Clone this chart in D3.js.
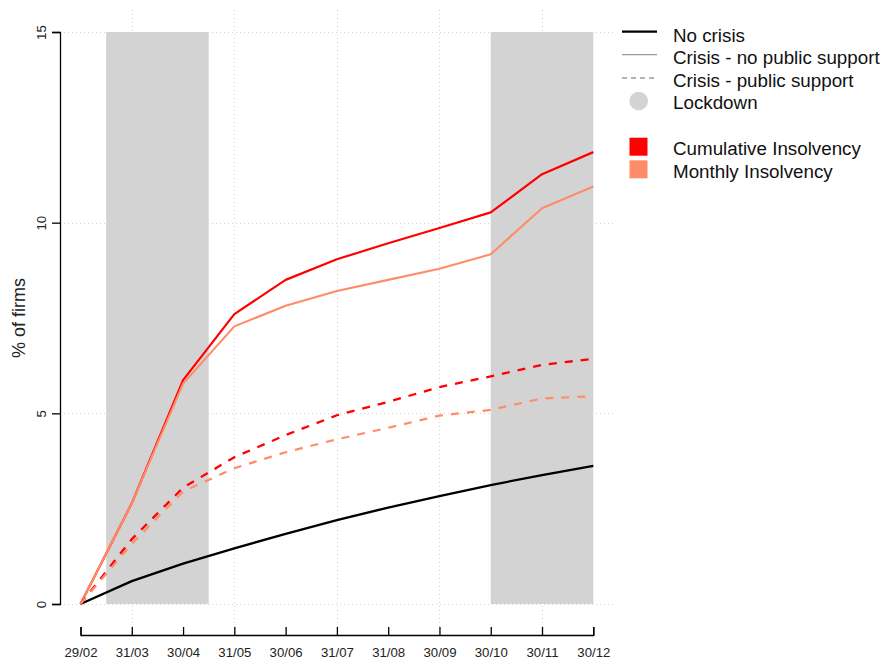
<!DOCTYPE html>
<html>
<head>
<meta charset="utf-8">
<script src="https://cdn.jsdelivr.net/npm/d3@7"></script>
<style>
  html, body { margin: 0; padding: 0; background: #fff; }
  svg { display: block; font-family: "Liberation Sans", Arial, sans-serif; }
</style>
</head>
<body>
<svg id="chart" width="885" height="664"></svg>
<script>
// Month-end dates shown on the x axis
const dates = ["29/02", "31/03", "30/04", "31/05", "30/06", "31/07", "31/08", "30/09", "30/10", "30/11", "30/12"];

// Share of firms insolvent (%) per scenario
const noCrisis          = [0, 0.60, 1.06, 1.46, 1.84, 2.20, 2.53, 2.83, 3.12, 3.38, 3.62];
const cumulNoSupport    = [0, 2.64, 5.87, 7.60, 8.50, 9.04, 9.46, 9.86, 10.27, 11.27, 11.85];
const monthlyNoSupport  = [0, 2.64, 5.78, 7.28, 7.82, 8.21, 8.50, 8.79, 9.17, 10.38, 10.95];
const cumulSupport      = [0, 1.70, 3.05, 3.85, 4.43, 4.95, 5.30, 5.69, 5.97, 6.27, 6.43];
const monthlySupport    = [0, 1.58, 2.95, 3.56, 3.98, 4.32, 4.62, 4.94, 5.09, 5.39, 5.45];

// Lockdown periods, in date-index units
const lockdowns = [[0.5, 2.5], [8, 10]];

const yTicks = [0, 5, 10, 15];
const gridX = [1, 3, 5, 7, 9];

const svg = d3.select("#chart");

const x = d3.scaleLinear().domain([0, 10]).range([80.5, 593.3]);
const y = d3.scaleLinear().domain([0, 15]).range([604, 32]);

const RED = "#FF0000", SALMON = "#FF8C69", LOCK = "#D3D3D3";

// Grid
const grid = svg.append("g").attr("stroke", "#d3d3d3").attr("stroke-dasharray", "1,3").attr("stroke-width", 1);
grid.selectAll("line.h").data(yTicks).join("line")
  .attr("x1", 60).attr("x2", 613)
  .attr("y1", d => Math.round(y(d)) + 0.5).attr("y2", d => Math.round(y(d)) + 0.5);
grid.selectAll("line.v").data(gridX).join("line")
  .attr("x1", d => Math.round(x(d)) + 0.5).attr("x2", d => Math.round(x(d)) + 0.5)
  .attr("y1", 10).attr("y2", 627);

// Lockdown shading
svg.append("g").selectAll("rect").data(lockdowns).join("rect")
  .attr("x", d => x(d[0])).attr("width", d => x(d[1]) - x(d[0]))
  .attr("y", y(15)).attr("height", y(0) - y(15))
  .attr("fill", LOCK);

// Y axis with rotated tick labels
const yAxis = d3.axisLeft(y).tickValues(yTicks).tickSize(8).tickFormat(d3.format("d"));
const gy = svg.append("g").attr("transform", "translate(60,0)").call(yAxis);
gy.select(".domain").attr("stroke", "#000").attr("stroke-width", 1.3);
gy.selectAll(".tick line").attr("stroke", "#000").attr("stroke-width", 1.3);
gy.selectAll(".tick text")
  .attr("font-size", 13.3).attr("fill", "#222")
  .attr("x", 0).attr("y", 0)
  .attr("text-anchor", "middle")
  .attr("transform", "translate(-19,0) rotate(-90)")
  .attr("dy", "0.35em");

// X axis, ticks pointing up into the plot
const xAxis = d3.axisTop(x).tickValues(d3.range(dates.length)).tickSize(8).tickFormat(i => dates[i]);
const gx = svg.append("g").attr("transform", "translate(0,635)").call(xAxis);
gx.select(".domain").attr("stroke", "#000").attr("stroke-width", 1.3);
gx.selectAll(".tick line").attr("stroke", "#000").attr("stroke-width", 1.3);
gx.selectAll(".tick text")
  .attr("font-size", 13.2).attr("fill", "#222")
  .attr("y", 17).attr("dy", "0.35em");

// Y axis title
svg.append("text")
  .attr("transform", `translate(19,${(y(0) + y(15)) / 2}) rotate(-90)`)
  .attr("text-anchor", "middle").attr("dy", "0.35em")
  .attr("font-size", 18).attr("fill", "#222")
  .text("% of firms");

// Series
const line = d3.line().x((d, i) => x(i)).y(d => y(d));
const series = [
  { values: noCrisis, color: "#000", dash: null, width: 2.3 },
  { values: cumulNoSupport, color: RED, dash: null, width: 2.2 },
  { values: monthlyNoSupport, color: SALMON, dash: null, width: 2.1 },
  { values: cumulSupport, color: RED, dash: "8,8", width: 2.3 },
  { values: monthlySupport, color: SALMON, dash: "8,8", width: 2.2 }
];
svg.append("g").selectAll("path").data(series).join("path")
  .attr("d", d => line(d.values))
  .attr("fill", "none")
  .attr("stroke", d => d.color)
  .attr("stroke-width", d => d.width)
  .attr("stroke-dasharray", d => d.dash)
  .attr("stroke-linejoin", "round");

// Legend
const legend = svg.append("g").attr("font-size", 18.8).attr("fill", "#111");
const legendText = [
  ["No crisis", 35],
  ["Crisis - no public support", 57.5],
  ["Crisis - public support", 80],
  ["Lockdown", 102.5],
  ["Cumulative Insolvency", 148],
  ["Monthly Insolvency", 171]
];
legend.selectAll("text").data(legendText).join("text")
  .attr("x", 673).attr("y", d => d[1]).attr("dy", "0.35em").text(d => d[0]);

legend.append("line").attr("x1", 622).attr("x2", 657).attr("y1", 31.7).attr("y2", 31.7)
  .attr("stroke", "#000").attr("stroke-width", 2.3);
legend.append("line").attr("x1", 622).attr("x2", 657).attr("y1", 54.7).attr("y2", 54.7)
  .attr("stroke", "#999").attr("stroke-width", 1.3);
legend.append("line").attr("x1", 622).attr("x2", 657).attr("y1", 78).attr("y2", 78)
  .attr("stroke", "#999").attr("stroke-width", 1.3).attr("stroke-dasharray", "5,4");
legend.append("circle").attr("cx", 638.7).attr("cy", 101).attr("r", 9.3).attr("fill", LOCK);
legend.append("rect").attr("x", 629.5).attr("y", 137.7).attr("width", 18).attr("height", 18).attr("fill", RED);
legend.append("rect").attr("x", 629.5).attr("y", 160.3).attr("width", 18).attr("height", 18).attr("fill", SALMON);
</script>
</body>
</html>
